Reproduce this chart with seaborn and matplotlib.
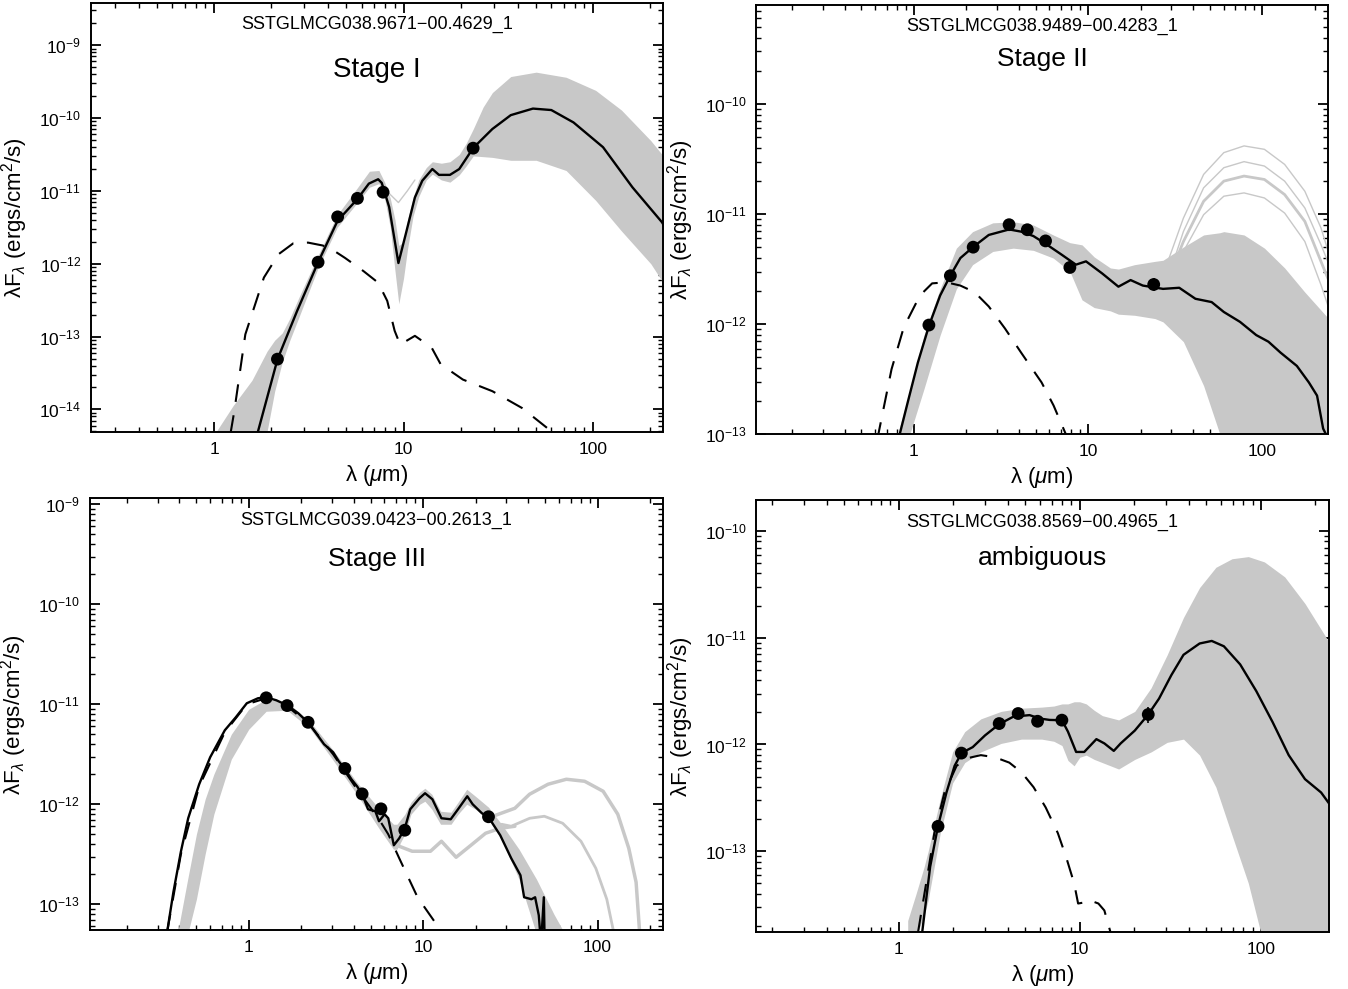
import numpy as np
import seaborn as sns
import matplotlib.pyplot as plt
from matplotlib.ticker import FixedLocator, FuncFormatter, NullFormatter, LogFormatterSciNotation

# SED fits of four YSO candidates. Curves are stored as log10(lambda/um)
# and log10(lambda F_lambda / erg cm^-2 s^-1).

# ---------------- Stage I : SSTGLMCG038.9671-00.4629_1 ----------------
s1_name = "SSTGLMCG038.9671\u221200.4629_1"
s1_stage = "Stage I"
s1_phot_lam = [2.16, 3.54, 4.49, 5.71, 7.8, 23.3]
s1_phot_flux = [4.9e-14, 1.05e-12, 4.4e-12, 7.9e-12, 9.6e-12, 3.86e-11]
s1_fit_lam = [0.23, 0.335, 0.438, 0.549, 0.652, 0.757, 0.817, 0.866, 0.885, 0.924,
              0.973, 1.012, 1.06, 1.099, 1.152, 1.187, 1.245, 1.294, 1.368, 1.469,
              1.566, 1.683, 1.78, 1.897, 2.053, 2.208, 2.364, 2.38]
s1_fit_flux = [-14.32, -13.31, -12.65, -11.98, -11.41, -11.11, -10.90, -10.84, -10.89, -11.22,
               -11.99, -11.59, -11.09, -10.86, -10.70, -10.78, -10.78, -10.70, -10.41, -10.15,
               -9.96, -9.87, -9.89, -10.06, -10.40, -10.95, -11.43, -11.5]
s1_star_lam = [0.0875, 0.107, 0.165, 0.263, 0.340, 0.418, 0.496, 0.574, 0.632, 0.691, 0.788,
               0.866, 0.914, 0.953, 0.982, 1.060, 1.148, 1.196, 1.313, 1.469, 1.625, 1.780]
s1_star_flux = [-14.32, -14.02, -12.97, -12.19, -11.87, -11.72, -11.71, -11.75, -11.82, -11.92, -12.10,
                -12.26, -12.51, -12.92, -13.11, -12.99, -13.15, -13.38, -13.59, -13.75, -13.98, -14.30]
s1_band_lam = [0.0, 0.10, 0.20, 0.28, 0.32, 0.36, 0.40, 0.45, 0.55, 0.65,
               0.75, 0.82, 0.87, 0.90, 0.93, 0.955, 0.975, 1.0, 1.021, 1.05,
               1.08, 1.12, 1.152, 1.2, 1.245, 1.294, 1.33, 1.368, 1.42, 1.469,
               1.566, 1.70, 1.858, 2.014, 2.15, 2.305, 2.38]
s1_band_hi = [-14.35, -13.95, -13.6, -13.2, -13.05, -12.95, -12.75, -12.45, -11.88, -11.33,
              -10.98, -10.73, -10.72, -10.88, -11.1, -11.4, -11.75, -11.7, -11.4, -11.1,
              -10.85, -10.68, -10.6, -10.62, -10.6, -10.5, -10.35, -10.15, -9.85, -9.65,
              -9.43, -9.37, -9.44, -9.62, -9.89, -10.31, -10.55]
s1_band_lo = [-15.0, -15.0, -15.0, -14.3, -13.75, -13.35, -13.05, -12.72, -12.05, -11.5,
              -11.18, -10.95, -10.9, -11.1, -11.5, -12.1, -12.55, -12.2, -11.8, -11.35,
              -11.08, -10.85, -10.77, -10.85, -10.88, -10.78, -10.66, -10.52, -10.53, -10.54,
              -10.58, -10.58, -10.72, -11.13, -11.55, -12.0, -12.3]
s1_extra = [
    ([0.88, 0.93, 0.973, 1.02, 1.06], [-10.92, -11.05, -11.16, -11.0, -10.85], 1.0),
]

# ---------------- Stage II : SSTGLMCG038.9489-00.4283_1 ----------------
s2_name = "SSTGLMCG038.9489\u221200.4283_1"
s2_stage = "Stage II"
s2_phot_lam = [1.22, 1.62, 2.19, 3.52, 4.48, 5.70, 7.86, 23.8]
s2_phot_flux = [9.8e-13, 2.75e-12, 5.0e-12, 8.0e-12, 7.2e-12, 5.7e-12, 3.27e-12, 2.29e-12]
s2_err_lam = [23.8]
s2_err_lo = [2.0e-12]
s2_err_hi = [2.63e-12]
s2_fit_lam = [-0.081, -0.035, 0.023, 0.088, 0.151, 0.209, 0.267, 0.340, 0.43, 0.547,
              0.616, 0.686, 0.756, 0.849, 0.930, 0.988, 1.081, 1.174, 1.244, 1.314,
              1.430, 1.523, 1.616, 1.709, 1.779, 1.872, 1.965, 2.035, 2.105, 2.198,
              2.267, 2.314, 2.349, 2.38]
s2_fit_flux = [-13.0, -12.71, -12.35, -12.01, -11.74, -11.56, -11.40, -11.30, -11.19, -11.14,
               -11.16, -11.20, -11.27, -11.37, -11.46, -11.43, -11.54, -11.66, -11.60, -11.65,
               -11.68, -11.67, -11.77, -11.80, -11.89, -11.98, -12.10, -12.16, -12.26, -12.38,
               -12.53, -12.65, -12.95, -13.05]
s2_star_lam = [-0.21, -0.128, -0.058, 0.035, 0.105, 0.186, 0.267, 0.349, 0.430, 0.523,
               0.616, 0.733, 0.802, 0.872]
s2_star_flux = [-13.05, -12.41, -12.03, -11.74, -11.63, -11.62, -11.65, -11.71, -11.84, -12.04,
                -12.26, -12.53, -12.74, -13.0]
s2_band_lam = [-0.11, -0.023, 0.058, 0.151, 0.244, 0.337, 0.453, 0.57, 0.686, 0.80,
               0.895, 0.965, 1.035, 1.128, 1.174, 1.267, 1.384, 1.43, 1.547, 1.663,
               1.756, 1.779, 1.895, 2.012, 2.128, 2.244, 2.38]
s2_band_hi = [-13.1, -12.6, -12.10, -11.68, -11.31, -11.16, -11.08, -11.07, -11.10, -11.19,
              -11.26, -11.28, -11.39, -11.49, -11.50, -11.46, -11.43, -11.42, -11.30, -11.19,
              -11.17, -11.16, -11.19, -11.31, -11.49, -11.71, -11.95]
s2_band_lo = [-13.3, -13.0, -12.59, -12.10, -11.68, -11.46, -11.34, -11.31, -11.33, -11.40,
              -11.52, -11.78, -11.85, -11.88, -11.91, -11.92, -11.95, -11.98, -12.16, -12.56,
              -13.0, -13.3, -13.3, -13.3, -13.3, -13.3, -13.3]
s2_extra = [
    ([1.43, 1.547, 1.663, 1.779, 1.895, 2.012, 2.128, 2.244, 2.337, 2.38],
     [-11.555, -11.037, -10.64, -10.442, -10.381, -10.412, -10.549, -10.793, -11.128, -11.35], 1.0),
    ([1.455, 1.547, 1.663, 1.779, 1.895, 2.012, 2.128, 2.244, 2.337, 2.38],
     [-11.6, -11.159, -10.762, -10.579, -10.524, -10.564, -10.701, -10.945, -11.28, -11.45], 1.0),
    ([1.47, 1.547, 1.663, 1.779, 1.895, 2.012, 2.128, 2.244, 2.337, 2.38],
     [-11.55, -11.25, -10.884, -10.701, -10.655, -10.686, -10.823, -11.067, -11.433, -11.6], 2.0),
    ([1.49, 1.547, 1.663, 1.779, 1.895, 2.012, 2.128, 2.244, 2.337, 2.38],
     [-11.5, -11.341, -11.006, -10.838, -10.808, -10.854, -10.991, -11.25, -11.646, -11.85], 1.0),
]

# ---------------- Stage III : SSTGLMCG039.0423-00.2613_1 ----------------
s3_name = "SSTGLMCG039.0423\u221200.2613_1"
s3_stage = "Stage III"
s3_phot_lam = [1.26, 1.66, 2.19, 3.56, 4.47, 5.73, 7.85, 23.7]
s3_phot_flux = [1.16e-11, 9.7e-12, 6.6e-12, 2.28e-12, 1.27e-12, 9.0e-13, 5.5e-13, 7.5e-13]
s3_fit_lam = [-0.467, -0.432, -0.389, -0.347, -0.284, -0.221, -0.137, -0.074, -0.011, 0.053,
              0.099, 0.158, 0.221, 0.284, 0.347, 0.432, 0.484, 0.516, 0.552, 0.589,
              0.621, 0.651, 0.684, 0.726, 0.747, 0.779, 0.80, 0.832, 0.863, 0.895,
              0.926, 0.979, 1.011, 1.053, 1.105, 1.158, 1.20, 1.253, 1.284, 1.337,
              1.375, 1.442, 1.505, 1.558, 1.579, 1.621, 1.642, 1.663, 1.676, 1.692, 1.698]
s3_fit_flux = [-13.27, -12.88, -12.475, -12.14, -11.80, -11.53, -11.26, -11.13, -10.99, -10.94,
               -10.93, -10.96, -11.01, -11.09, -11.195, -11.40, -11.48, -11.57, -11.65, -11.75,
               -11.82, -11.90, -12.05, -12.07, -12.17, -12.10, -12.14, -12.41, -12.34, -12.24,
               -12.05, -11.94, -11.89, -11.95, -12.14, -12.15, -12.05, -11.92, -12.00, -12.09,
               -12.13, -12.31, -12.54, -12.71, -12.93, -12.95, -12.93, -13.11, -13.4, -12.93, -13.5]
s3_star_lam = [-0.467, -0.389, -0.284, -0.137, -0.011, 0.099, 0.221, 0.347, 0.484, 0.621,
               0.747, 0.80, 0.863, 0.968, 1.116]
s3_star_flux = [-13.27, -12.5, -11.82, -11.28, -11.0, -10.94, -11.02, -11.2, -11.5, -11.85,
                -12.15, -12.3, -12.54, -12.93, -13.3]
s3_band_lam = [-0.42, -0.35, -0.30, -0.25, -0.20, -0.10, 0.0, 0.10, 0.22, 0.35,
               0.48, 0.62, 0.75, 0.83, 0.85, 0.895, 0.93, 0.98, 1.01, 1.05,
               1.10, 1.16, 1.20, 1.25, 1.30, 1.375, 1.45, 1.55, 1.65, 1.75, 1.83]
s3_band_hi = [-13.4, -12.75, -12.3, -11.95, -11.7, -11.3, -11.05, -10.95, -10.98, -11.17,
              -11.45, -11.78, -12.05, -12.2, -12.2, -12.1, -11.98, -11.88, -11.84, -11.9,
              -12.07, -12.08, -11.98, -11.85, -11.92, -12.03, -12.2, -12.45, -12.75, -13.1, -13.35]
s3_band_lo = [-13.5, -13.3, -12.95, -12.5, -12.1, -11.55, -11.25, -11.07, -11.06, -11.24,
              -11.55, -11.9, -12.25, -12.45, -12.45, -12.3, -12.1, -12.0, -11.97, -12.05,
              -12.2, -12.2, -12.1, -12.0, -12.05, -12.15, -12.35, -12.75, -13.3, -13.5, -13.5]
s3_extra = [
    ([0.83, 0.863, 0.937, 1.042, 1.105, 1.189, 1.274, 1.358, 1.442, 1.526],
     [-12.3, -12.42, -12.47, -12.47, -12.37, -12.53, -12.41, -12.29, -12.24, -12.22], 2.5),
    ([1.40, 1.526, 1.61, 1.716, 1.821, 1.926, 2.032, 2.116, 2.179, 2.221, 2.242],
     [-12.12, -12.04, -11.90, -11.80, -11.75, -11.77, -11.87, -12.10, -12.44, -12.78, -13.3], 2.5),
    ([1.45, 1.505, 1.611, 1.695, 1.80, 1.905, 1.99, 2.053, 2.095],
     [-12.2, -12.22, -12.14, -12.12, -12.19, -12.37, -12.64, -12.95, -13.3], 2.0),
]

# ---------------- ambiguous : SSTGLMCG038.8569-00.4965_1 ----------------
s4_name = "SSTGLMCG038.8569\u221200.4965_1"
s4_stage = "ambiguous"
s4_phot_lam = [1.65, 2.22, 3.59, 4.57, 5.85, 7.97, 23.9]
s4_phot_flux = [1.71e-13, 8.3e-13, 1.57e-12, 1.95e-12, 1.65e-12, 1.69e-12, 1.91e-12]
s4_err_lam = [23.9]
s4_err_lo = [1.60e-12]
s4_err_hi = [2.24e-12]
s4_fit_lam = [0.130, 0.174, 0.217, 0.264, 0.309, 0.347, 0.409, 0.477, 0.555, 0.633,
              0.723, 0.779, 0.834, 0.902, 0.935, 0.98, 1.025, 1.092, 1.136, 1.188,
              1.226, 1.304, 1.378, 1.438, 1.506, 1.573, 1.662, 1.729, 1.796, 1.886,
              1.975, 2.065, 2.154, 2.244, 2.333, 2.38]
s4_fit_flux = [-13.76, -13.145, -12.767, -12.45, -12.20, -12.08, -12.025, -11.915, -11.81, -11.74,
               -11.725, -11.757, -11.77, -11.773, -11.88, -12.07, -12.07, -11.95, -11.99, -12.06,
               -11.99, -11.87, -11.72, -11.57, -11.35, -11.16, -11.054, -11.03, -11.08, -11.25,
               -11.50, -11.79, -12.10, -12.325, -12.45, -12.56]
s4_star_lam = [0.107, 0.152, 0.197, 0.253, 0.32, 0.376, 0.454, 0.532, 0.611, 0.678,
               0.745, 0.812, 0.879, 0.924, 0.969, 0.991, 1.025, 1.047, 1.103, 1.136, 1.17]
s4_star_flux = [-13.76, -13.30, -12.83, -12.45, -12.20, -12.13, -12.10, -12.12, -12.17, -12.26,
                -12.40, -12.59, -12.83, -13.05, -13.30, -13.49, -13.48, -13.455, -13.49, -13.555, -13.76]
s4_band_lam = [0.05, 0.096, 0.141, 0.163, 0.23, 0.298, 0.365, 0.454, 0.566, 0.678,
               0.79, 0.857, 0.902, 0.935, 0.969, 1.0, 1.036, 1.08, 1.125, 1.215,
               1.304, 1.394, 1.483, 1.573, 1.662, 1.752, 1.841, 1.931, 2.02, 2.132,
               2.244, 2.38]
s4_band_hi = [-13.65, -13.4, -13.145, -13.0, -12.51, -12.07, -11.88, -11.76, -11.69, -11.66,
              -11.65, -11.64, -11.62, -11.62, -11.6, -11.6, -11.62, -11.68, -11.73, -11.77,
              -11.69, -11.47, -11.16, -10.81, -10.53, -10.34, -10.26, -10.24, -10.29, -10.43,
              -10.68, -11.05]
s4_band_lo = [-13.9, -13.8, -13.6, -13.46, -12.83, -12.36, -12.17, -12.07, -11.99, -11.95,
              -11.95, -11.97, -12.01, -12.15, -12.2, -12.12, -12.10, -12.14, -12.17, -12.23,
              -12.14, -12.07, -11.98, -11.95, -12.1, -12.4, -12.85, -13.3, -13.9, -13.9,
              -13.9, -13.9]

# panel layout (figure fractions) and axis ranges (log10)
panels = [
    dict(name=s1_name, stage=s1_stage, stage_size=20, stage_y=0.844,
         phot_lam=s1_phot_lam, phot_flux=s1_phot_flux, err=None,
         fit=(s1_fit_lam, s1_fit_flux), star=(s1_star_lam, s1_star_flux),
         band=(s1_band_lam, s1_band_lo, s1_band_hi), extra=s1_extra,
         rect=[0.0673, 0.5632, 0.4249, 0.4338], xlim=(-0.651, 2.372), ylim=(-14.31, -8.42)),
    dict(name=s2_name, stage=s2_stage, stage_size=19, stage_y=0.874,
         phot_lam=s2_phot_lam, phot_flux=s2_phot_flux, err=(s2_err_lam, s2_err_lo, s2_err_hi),
         fit=(s2_fit_lam, s2_fit_flux), star=(s2_star_lam, s2_star_flux),
         band=(s2_band_lam, s2_band_lo, s2_band_hi), extra=s2_extra,
         rect=[0.5612, 0.5607, 0.4236, 0.4343], xlim=(-0.903, 2.374), ylim=(-13.003, -9.10)),
    dict(name=s3_name, stage=s3_stage, stage_size=19, stage_y=0.860,
         phot_lam=s3_phot_lam, phot_flux=s3_phot_flux, err=None,
         fit=(s3_fit_lam, s3_fit_flux), star=(s3_star_lam, s3_star_flux),
         band=(s3_band_lam, s3_band_lo, s3_band_hi), extra=s3_extra,
         rect=[0.0665, 0.0594, 0.4257, 0.4368], xlim=(-0.912, 2.378), ylim=(-13.26, -8.94)),
    dict(name=s4_name, stage=s4_stage, stage_size=19, stage_y=0.865,
         phot_lam=s4_phot_lam, phot_flux=s4_phot_flux, err=(s4_err_lam, s4_err_lo, s4_err_hi),
         fit=(s4_fit_lam, s4_fit_flux), star=(s4_star_lam, s4_star_flux),
         band=(s4_band_lam, s4_band_lo, s4_band_hi), extra=[],
         rect=[0.5612, 0.0573, 0.4245, 0.4371], xlim=(-0.785, 2.375), ylim=(-13.76, -9.71)),
]

GREY = "#c8c8c8"


def decade_ticks(lo, hi):
    """Major and minor tick values inside a log10 range."""
    major, minor = [], []
    for d in range(int(np.floor(lo)), int(np.ceil(hi)) + 1):
        if lo - 1e-6 <= d <= hi + 1e-6:
            major.append(10.0 ** d)
        for m in range(2, 10):
            v = d + np.log10(m)
            if lo <= v <= hi:
                minor.append(m * 10.0 ** d)
    return major, minor


sns.set_theme(style="ticks", rc={"axes.edgecolor": "black", "xtick.color": "black",
                                 "ytick.color": "black", "text.color": "black",
                                 "axes.labelcolor": "black"})
plt.rcParams["font.family"] = ["Liberation Sans", "DejaVu Sans"]
plt.rcParams["mathtext.fontset"] = "custom"
plt.rcParams["mathtext.rm"] = "Liberation Sans"
plt.rcParams["mathtext.it"] = "Liberation Sans:italic"
plt.rcParams["mathtext.bf"] = "Liberation Sans:bold"

fig = plt.figure(figsize=(13.48, 9.89), dpi=100)

for p in panels:
    ax = fig.add_axes(p["rect"])
    ax.set_xscale("log")
    ax.set_yscale("log")

    # grey envelope of the acceptable model fits
    blam, blo, bhi = (np.asarray(a) for a in p["band"])
    ax.fill_between(10 ** blam, 10 ** blo, 10 ** bhi, color=GREY, lw=0, zorder=1)
    for lam, flux, lw in p["extra"]:
        sns.lineplot(x=10 ** np.asarray(lam), y=10 ** np.asarray(flux), ax=ax, color=GREY,
                     lw=lw, sort=False, estimator=None, zorder=1.5)

    # stellar photosphere (dashed) and best fit (solid)
    slam, sflux = (np.asarray(a) for a in p["star"])
    sns.lineplot(x=10 ** slam, y=10 ** sflux, ax=ax, color="black", lw=1.5,
                 linestyle=(0, (8.5, 6.5)), sort=False, estimator=None, zorder=2)
    flam, fflux = (np.asarray(a) for a in p["fit"])
    sns.lineplot(x=10 ** flam, y=10 ** fflux, ax=ax, color="black", lw=1.7,
                 sort=False, estimator=None, zorder=3)

    # photometry
    if p["err"] is not None:
        elam, elo, ehi = p["err"]
        ax.vlines(elam, elo, ehi, color="black", lw=1.2, zorder=4)
    sns.scatterplot(x=p["phot_lam"], y=p["phot_flux"], ax=ax, color="black", s=85,
                    edgecolor="none", zorder=5, legend=False)

    ax.set_xlim(10 ** p["xlim"][0], 10 ** p["xlim"][1])
    ax.set_ylim(10 ** p["ylim"][0], 10 ** p["ylim"][1])

    xmaj, xmin = decade_ticks(*p["xlim"])
    ymaj, ymin = decade_ticks(*p["ylim"])
    ax.xaxis.set_major_locator(FixedLocator(xmaj))
    ax.xaxis.set_minor_locator(FixedLocator(xmin))
    ax.xaxis.set_major_formatter(FuncFormatter(lambda v, pos: f"{v:g}"))
    ax.xaxis.set_minor_formatter(NullFormatter())
    ax.yaxis.set_major_locator(FixedLocator(ymaj))
    ax.yaxis.set_minor_locator(FixedLocator(ymin))
    ax.yaxis.set_major_formatter(LogFormatterSciNotation())
    ax.yaxis.set_minor_formatter(NullFormatter())

    ax.tick_params(which="both", direction="in", top=True, right=True, labelsize=12.5, pad=7)
    ax.tick_params(which="major", length=7, width=1.3)
    ax.tick_params(which="minor", length=3.5, width=1.0)
    for sp in ax.spines.values():
        sp.set_linewidth(1.4)
        sp.set_color("black")

    ax.set_xlabel(r"λ ($\mu$m)", fontsize=16)
    ax.set_ylabel(r"λF$_\lambda$ (ergs/cm$^2$/s)", fontsize=16)
    ax.xaxis.set_label_coords(0.5, -0.072)
    ax.yaxis.set_label_coords(-0.106, 0.5)

    ax.text(0.5, 0.949, p["name"], transform=ax.transAxes, ha="center", va="center",
            fontsize=13)
    ax.text(0.5, p["stage_y"], p["stage"], transform=ax.transAxes, ha="center", va="center",
            fontsize=p["stage_size"])

fig.savefig("out.png", dpi=100)
